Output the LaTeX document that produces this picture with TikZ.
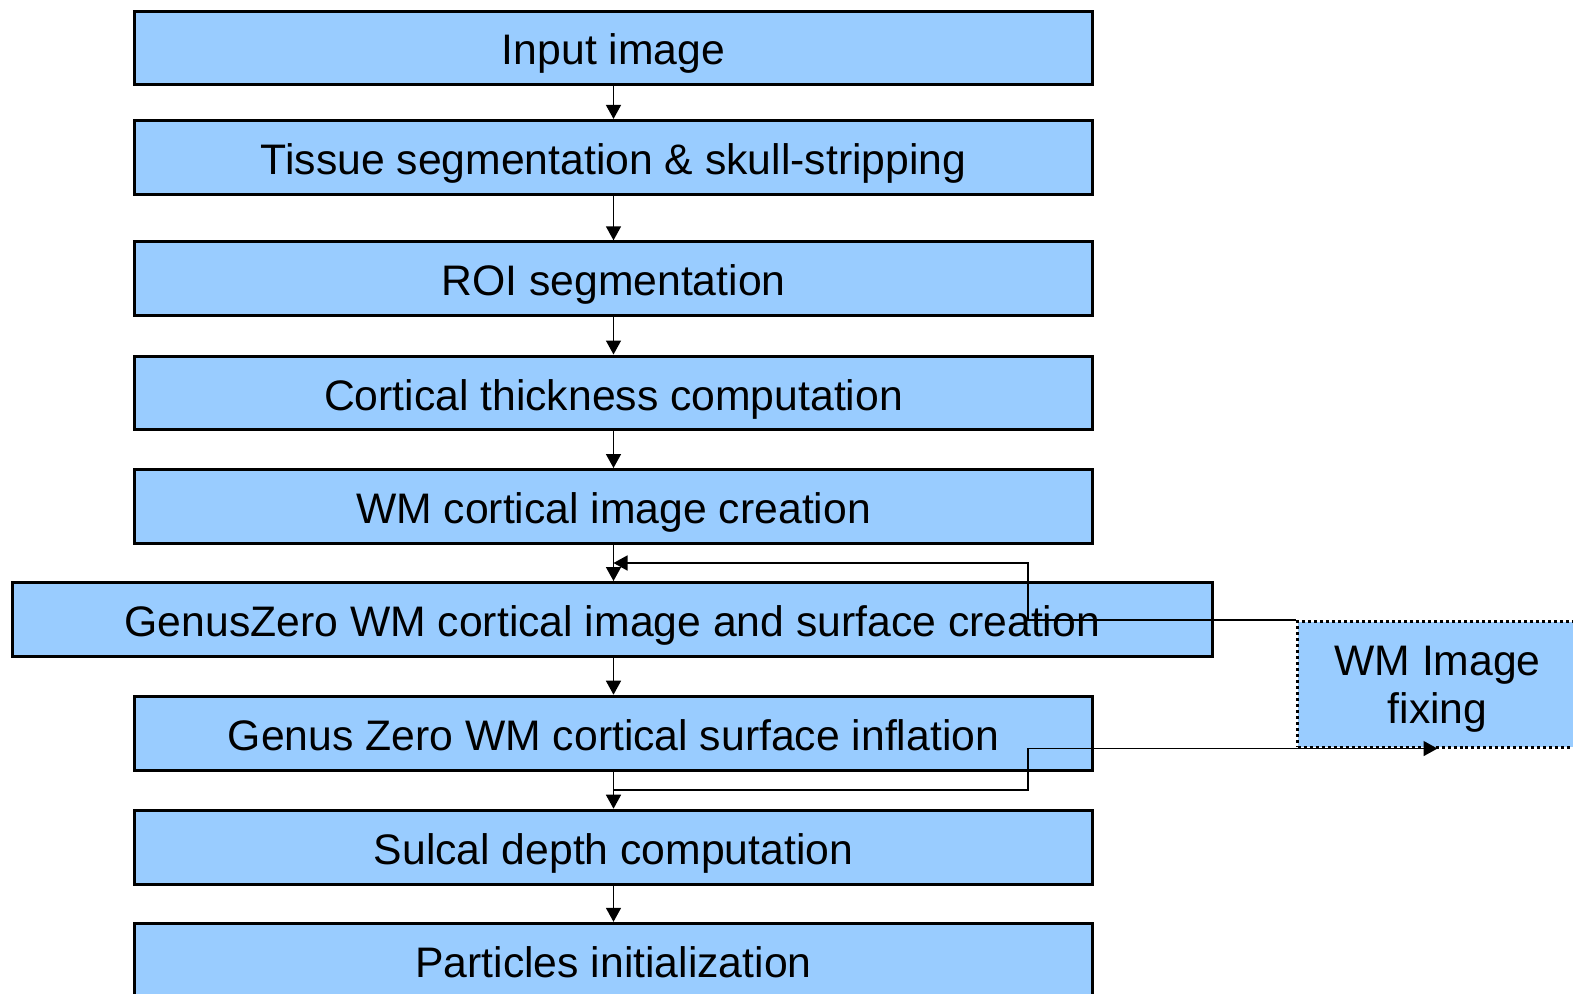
\documentclass[tikz,border=0pt]{standalone}
\usepackage{fontspec}
\setmainfont{Liberation Sans}
\usetikzlibrary{arrows.meta,calc}
\definecolor{boxblue}{RGB}{153,204,255}
\begin{document}
\begin{tikzpicture}[x=0.02cm,y=-0.02cm,
  stepbox/.style={draw=black, fill=boxblue, line width=0.06cm, minimum height=1.48cm,
    minimum width=19.18cm, inner sep=0pt, text height=0.7cm, text depth=0.02cm,
    font=\fontsize{24.3}{27.3}\selectfont, text=black},
  fixbox/.style={draw=black, fill=boxblue, line width=0.06cm, dash pattern=on 0.06cm off 0.06cm,
    minimum height=2.51cm, minimum width=5.6cm, inner sep=0pt, align=center,
    text height=1.6cm, text depth=0.052cm,
    font=\fontsize{24.3}{27.3}\selectfont, text=black},
  arr/.style={line width=0.03cm, -{Triangle[length=0.28cm,width=0.3cm]}}]
\useasboundingbox (0,0) rectangle (1573,994);
\clip (0,0) rectangle (1573,994);
\node[stepbox] (n1) at (613.5,48) {Input image};
\node[stepbox] (n2) at (613.5,157.4) {Tissue segmentation \& skull-stripping};
\node[stepbox] (n3) at (613.5,278.8) {ROI segmentation};
\node[stepbox] (n4) at (613.5,393) {Cortical thickness computation};
\node[stepbox] (n5) at (613.5,506.5) {WM cortical image creation};
\node[stepbox, minimum width=24.0cm] (n6) at (612.4,619.5) {GenusZero WM cortical image and surface creation};
\node[stepbox] (n7) at (613.5,733.2) {Genus Zero WM cortical surface inflation};
\node[stepbox] (n8) at (613.5,847.2) {Sulcal depth computation};
\node[stepbox] (n9) at (613.5,960.3) {Particles initialization};
\node[fixbox] (wm) at (1437.5,684.3) {WM Image\\fixing};
\draw[arr] (n1.south) -- (n1.south |- n2.north);
\draw[arr] (n2.south) -- (n2.south |- n3.north);
\draw[arr] (n3.south) -- (n3.south |- n4.north);
\draw[arr] (n4.south) -- (n4.south |- n5.north);
\draw[arr] (n5.south) -- (n5.south |- n6.north);
\draw[arr] (n6.south -| n5.south) -- (n5.south |- n7.north);
\draw[arr] (n7.south) -- (n7.south |- n8.north);
\draw[arr] (n8.south) -- (n8.south |- n9.north);
\coordinate (m56) at ($(n5.south)!0.5!(n6.north -| n5.south)$);
\coordinate (m78) at ($(n7.south)!0.5!(n8.north)$);
\coordinate (jx) at (1028,0);
\draw[arr] (wm.north west) -- (wm.north west -| jx) |- (m56);
\draw[arr] (m78) -| (jx |- wm.south) -- (wm.south);
\end{tikzpicture}
\end{document}
